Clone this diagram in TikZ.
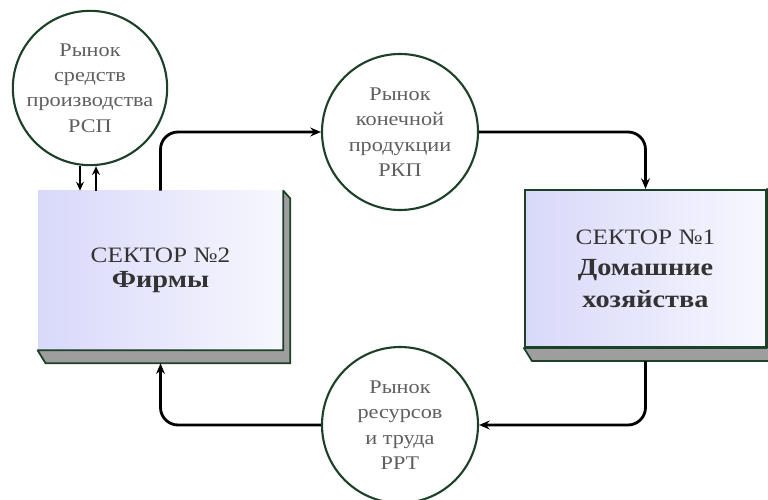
\documentclass[tikz,border=0pt]{standalone}
\usepackage{fontspec}
\setmainfont[FakeStretch=1.15]{Liberation Serif}
\usepackage{tikz}
\usetikzlibrary{arrows.meta,positioning}

\definecolor{ringgreen}{RGB}{28,64,40}
\definecolor{boxlav}{RGB}{216,216,250}
\definecolor{slabgray}{RGB}{158,158,158}
\definecolor{txtgray}{RGB}{95,95,95}

\newcommand{\bigbold}{\fontsize{14}{18}\selectfont\bfseries}

\begin{document}
\begin{tikzpicture}[>={Stealth[length=6pt,width=5pt]},
  market/.style={circle, draw=ringgreen, line width=1.2pt, inner sep=0pt, align=center, text=txtgray, font=\fontsize{11}{14.5}\selectfont},
  sector/.style={rectangle, inner sep=0pt, align=center, left color=boxlav, right color=boxlav!20, text=black!80},
  slab/.style={fill=slabgray, draw=ringgreen, line width=1pt, line join=round},
  flow/.style={->, line width=1.6pt, rounded corners=0.35cm}]

  \useasboundingbox[fill=white] (0,0) rectangle (15.36,-10);

  %markets
  \foreach \name/\x/\y/\d/\txt in {rsp/1.8/-1.76/3.08/{Рынок\\средств\\производства\\РСП},
                                   rkp/8.0/-2.64/3.12/{Рынок\\конечной\\продукции\\РКП},
                                   rrt/8.0/-8.5/3.12/{Рынок\\ресурсов\\и труда\\РРТ}}{
      \node[market, minimum size=\d cm] (\name) at (\x,\y) {\txt};
  }

  %sectors
  \node[sector, minimum width=4.9cm, minimum height=3.18cm, font=\fontsize{12.5}{14}\selectfont] (firms) at (3.21,-5.41)
       {СЕКТОР №2\\{\bigbold Фирмы}};
  \node[sector, draw=ringgreen, line width=1.2pt, minimum width=4.82cm, minimum height=3.14cm, font=\fontsize{12.5}{18}\selectfont] (home) at (12.91,-5.37)
       {СЕКТОР №1\\{\bigbold Домашние}\\{\bigbold хозяйства}};

  \foreach \b in {firms,home}{
      \draw[slab] (\b.south west) -- (\b.south east) -- (\b.north east) -- ++(0.14,-0.16)
                  |- ([shift={(0.16,-0.26)}]\b.south west) -- cycle;
  }

  %flows
  \draw[flow] (firms.north) |- (rkp.west);
  \draw[flow] (rkp.east) -| (home.north);
  \draw[flow] ([yshift=-0.26cm]home.south) |- (rrt.east);
  \draw[flow] (rrt.west) -| ([yshift=-0.26cm]firms.south);

  \draw[->, line width=1.1pt, >={Stealth[length=5pt,width=4.5pt]}] ([xshift=-0.2cm]rsp.south) -- ([xshift=-0.2cm]rsp.south |- firms.north);
  \draw[<-, line width=1.1pt, >={Stealth[length=5pt,width=4.5pt]}] ([xshift=0.12cm]rsp.south) -- ([xshift=0.12cm]rsp.south |- firms.north);

\end{tikzpicture}
\end{document}
